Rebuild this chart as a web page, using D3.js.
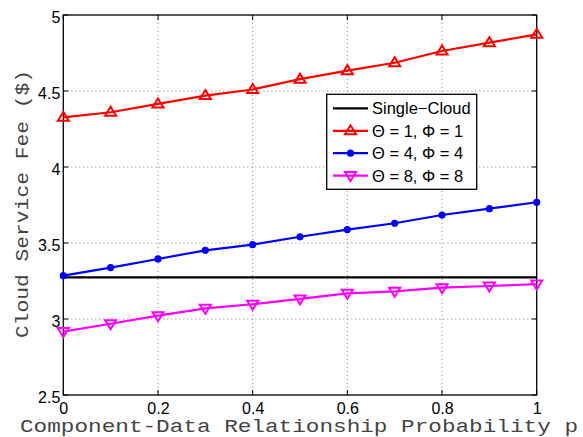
<!DOCTYPE html>
<html><head><meta charset="utf-8">
<script src="https://cdn.jsdelivr.net/npm/d3@7"></script>
<style>body{margin:0;background:#fff}svg{display:block}</style>
</head><body>
<svg id="c" width="583" height="437"></svg>
<script>
const pValues = [0, 0.1, 0.2, 0.3, 0.4, 0.5, 0.6, 0.7, 0.8, 0.9, 1];
const singleCloud = [3.274, 3.274, 3.274, 3.274, 3.274, 3.274, 3.274, 3.274, 3.274, 3.274, 3.274];
const theta1 = [4.327, 4.360, 4.415, 4.470, 4.510, 4.578, 4.634, 4.686, 4.763, 4.818, 4.873];
const theta4 = [3.285, 3.338, 3.395, 3.452, 3.489, 3.541, 3.588, 3.630, 3.684, 3.726, 3.768];
const theta8 = [2.917, 2.969, 3.022, 3.070, 3.097, 3.132, 3.169, 3.182, 3.206, 3.217, 3.230];
const xTicks = [0, 0.2, 0.4, 0.6, 0.8, 1];
const yTicks = [2.5, 3, 3.5, 4, 4.5, 5];
const seriesNames = ["Single\u2212Cloud", "\u0398 = 1, \u03A6 = 1", "\u0398 = 4, \u03A6 = 4", "\u0398 = 8, \u03A6 = 8"];
const seriesColors = ["#000000", "#ff0000", "#0000ff", "#ff00ff"];
const seriesMarkers = ["none", "triUp", "dot", "triDown"];
const xLabel = "Component-Data Relationship Probability p";
const yLabel = "Cloud Service Fee ($)";

const svg = d3.select("#c");
const L = 63.3, R = 536.7, T = 15, B = 395;
const x = d3.scaleLinear().domain([0, 1]).range([L, R]);
const y = d3.scaleLinear().domain([2.5, 5]).range([B, T]);

// grid
const g = svg.append("g");
g.selectAll(".gx").data(xTicks.slice(1, -1)).enter().append("line")
  .attr("x1", d => x(d)).attr("x2", d => x(d)).attr("y1", T).attr("y2", B)
  .attr("stroke", "#888").attr("stroke-width", 1).attr("stroke-dasharray", "1,3");
g.selectAll(".gy").data(yTicks.slice(1, -1)).enter().append("line")
  .attr("y1", d => y(d)).attr("y2", d => y(d)).attr("x1", L).attr("x2", R)
  .attr("stroke", "#888").attr("stroke-width", 1).attr("stroke-dasharray", "1,3");

// axes
const xAxis = d3.axisBottom(x).tickValues(xTicks).tickSize(0).tickPadding(9).tickFormat(d3.format("~g"));
const yAxis = d3.axisLeft(y).tickValues(yTicks).tickSize(0).tickPadding(3).tickFormat(d3.format("~g"));
const xa = svg.append("g").attr("transform", `translate(0,${B})`).call(xAxis);
const ya = svg.append("g").attr("transform", `translate(${L},0)`).call(yAxis);
[xa, ya].forEach(a => {
  a.select(".domain").remove();
  a.selectAll("text").attr("font-family", "Liberation Sans, Arial, sans-serif").attr("font-size", 16).attr("fill", "#000");
});
ya.selectAll("text").attr("dy", "0.48em");
xa.selectAll("text").attr("dy", "0.62em");

// small inner ticks
const tk = svg.append("g").attr("stroke", "#000").attr("stroke-width", 1);
xTicks.forEach(d => {
  tk.append("line").attr("x1", x(d)).attr("x2", x(d)).attr("y1", B).attr("y2", B - 5);
  tk.append("line").attr("x1", x(d)).attr("x2", x(d)).attr("y1", T).attr("y2", T + 5);
});
yTicks.forEach(d => {
  tk.append("line").attr("y1", y(d)).attr("y2", y(d)).attr("x1", L).attr("x2", L + 5);
  tk.append("line").attr("y1", y(d)).attr("y2", y(d)).attr("x1", R).attr("x2", R - 5);
});

// box
svg.append("rect").attr("x", L).attr("y", T).attr("width", R - L).attr("height", B - T)
  .attr("fill", "none").attr("stroke", "#000").attr("stroke-width", 1.3);

// series
const allSeries = [singleCloud, theta1, theta4, theta8];
const line = d3.line().x((d, i) => x(pValues[i])).y(d => y(d));
function marker(sel, type, color, cx, cy) {
  if (type === "dot") {
    sel.append("circle").attr("cx", cx).attr("cy", cy).attr("r", 3.6).attr("fill", color);
  } else if (type === "triUp") {
    sel.append("path").attr("d", `M${cx},${cy - 5.5}L${cx + 5.5},${cy + 3.5}L${cx - 5.5},${cy + 3.5}Z`)
      .attr("fill", "none").attr("stroke", color).attr("stroke-width", 2);
  } else if (type === "triDown") {
    sel.append("path").attr("d", `M${cx},${cy + 5.5}L${cx + 5.5},${cy - 3.5}L${cx - 5.5},${cy - 3.5}Z`)
      .attr("fill", "none").attr("stroke", color).attr("stroke-width", 2);
  }
}
allSeries.forEach((s, k) => {
  svg.append("path").datum(s).attr("d", line).attr("fill", "none")
    .attr("stroke", seriesColors[k]).attr("stroke-width", k === 0 ? 2.4 : 2.2);
  const mg = svg.append("g");
  if (seriesMarkers[k] !== "none") s.forEach((v, i) => marker(mg, seriesMarkers[k], seriesColors[k], x(pValues[i]), y(v)));
});

// legend
const lg = svg.append("g");
lg.append("rect").attr("x", 326.7).attr("y", 94.3).attr("width", 150).attr("height", 95)
  .attr("fill", "#fff").attr("stroke", "#000").attr("stroke-width", 1.3);
const rowsY = [108.3, 130.8, 153.2, 175.6];
seriesNames.forEach((n, k) => {
  const yy = rowsY[k];
  lg.append("line").attr("x1", 333).attr("x2", 368).attr("y1", yy).attr("y2", yy)
    .attr("stroke", seriesColors[k]).attr("stroke-width", 2.2);
  marker(lg, seriesMarkers[k], seriesColors[k], 350.5, yy);
  lg.append("text").attr("x", 372).attr("y", yy).attr("dy", "0.36em")
    .attr("font-family", "Liberation Sans, Arial, sans-serif").attr("font-size", 16.5).text(n);
});

// axis labels
svg.append("text").attr("x", 20).attr("y", 432).attr("textLength", 558).attr("lengthAdjust", "spacingAndGlyphs")
  .attr("font-family", "Liberation Mono, Courier New, monospace").attr("font-size", 19).attr("fill", "#444").text(xLabel);
svg.append("text").attr("transform", "translate(28,338) rotate(-90)").attr("x", 0).attr("y", 0)
  .attr("textLength", 268).attr("lengthAdjust", "spacingAndGlyphs")
  .attr("font-family", "Liberation Mono, Courier New, monospace").attr("font-size", 18.5).attr("fill", "#444").text(yLabel);
</script>
</body></html>
